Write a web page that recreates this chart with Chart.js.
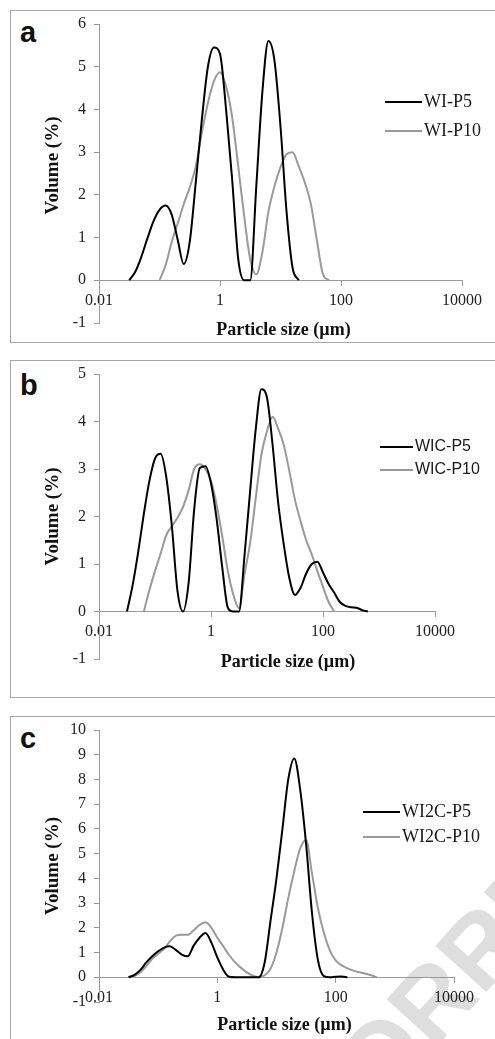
<!DOCTYPE html>
<html>
<head>
<meta charset="utf-8">
<title>Particle size distribution</title>
<script src="https://cdn.jsdelivr.net/npm/chart.js@4.4.1/dist/chart.umd.min.js"></script>
<style>
  html, body { margin: 0; padding: 0; background: #fff; width: 495px; height: 1039px; overflow: hidden; }
  .frame { position: absolute; left: 10px; width: 520px; border: 1px solid #a6a6a6; box-sizing: border-box; }
  .tag { position: absolute; left: 20px; font: bold 29px "Liberation Sans", Arial, sans-serif; line-height: 1; color: #111; }
  .watermark { position: absolute; left: 172px; top: 1211px; transform-origin: 0 0; transform: rotate(-47.7deg);
    font: bold 100px "Liberation Sans", Arial, sans-serif; line-height: 1; color: #dedede; white-space: nowrap; }
  canvas { position: absolute; left: 0; }
</style>
</head>
<body>
<div class="frame" style="top:10px;height:333px"></div>
<div class="frame" style="top:360px;height:338px"></div>
<div class="frame" style="top:716px;height:400px"></div>
<div class="watermark">UNCORRECTED PROOF</div>
<div class="tag" style="top:18px">a</div>
<div class="tag" style="top:371px">b</div>
<div class="tag" style="top:724px">c</div>
<canvas id="chartA" width="495" height="384" style="top:0px"></canvas>
<canvas id="chartB" width="495" height="371" style="top:350px"></canvas>
<canvas id="chartC" width="495" height="355" style="top:706px"></canvas>
<script>
// Particle size distributions (volume %) for WI, WIC and WI2C powders
// Readings taken along a 0.1-decade size grid, null where the curve is not drawn

// --- Size classes (µm) ---
const SIZES = [0.0316, 0.0398, 0.0501, 0.0631, 0.0794, 0.1, 0.126, 0.158, 0.2, 0.251,
  0.316, 0.398, 0.501, 0.631, 0.794, 1, 1.26, 1.58, 2, 2.51,
  3.16, 3.98, 5.01, 6.31, 7.94, 10, 12.6, 15.8, 20, 25.1,
  31.6, 39.8, 50.1, 63.1, 79.4, 100, 126, 158, 200, 251,
  316, 398, 501, 631];

const X_TICKS = [0.01, 1, 100, 10000];

// --- Panel a ---
const WI_P5 = [0, 0.2, 0.55, 0.98, 1.38, 1.65, 1.75, 1.55, 0.95, 0.38,
  0.9, 2.3, 3.76, 5.0, 5.45, 5.3, 4.0, 2.4, 0.5, 0,
  0, 2.2, 4.4, 5.6, 5.15, 3.6, 1.6, 0.3, 0, null,
  null, null, null, null, null, null, null, null, null, null,
  null, null, null, null];
const WI_P10 = [null, null, null, null, null, 0, 0.35, 0.88, 1.33, 1.78,
  2.17, 2.67, 3.45, 4.15, 4.66, 4.87, 4.54, 3.84, 2.67, 1.5,
  0.49, 0.14, 0.65, 1.6, 2.2, 2.65, 2.95, 3.0, 2.67, 2.3,
  1.8, 0.95, 0.15, 0, null, null, null, null, null, null,
  null, null, null, null];

// --- Panel b ---
const WIC_P5 = [0, 0.55, 1.25, 2.05, 2.75, 3.22, 3.32, 2.85, 1.8, 0.45,
  0, 0.6, 2.15, 3.02, 3.06, 2.7, 1.95, 0.95, 0.08, 0,
  0, 1.2, 2.55, 3.85, 4.68, 4.5, 3.5, 2.3, 1.4, 0.7,
  0.35, 0.5, 0.8, 1.0, 1.05, 0.82, 0.58, 0.4, 0.2, 0.12,
  0.09, 0.08, 0.03, 0];
const WIC_P10 = [null, null, null, 0, 0.45, 0.85, 1.22, 1.6, 1.8, 1.97,
  2.2, 2.55, 3.0, 3.1, 3.0, 2.75, 2.25, 1.6, 0.85, 0.35,
  0.07, 0.8, 1.45, 2.4, 3.3, 3.8, 4.1, 3.85, 3.5, 2.95,
  2.35, 1.9, 1.5, 1.2, 0.85, 0.52, 0.2, 0, null, null,
  null, null, null, null];

// --- Panel c ---
const WI2C_P5 = [0, 0.1, 0.3, 0.6, 0.85, 1.05, 1.2, 1.25, 1.1, 0.92,
  0.85, 1.28, 1.6, 1.79, 1.4, 0.8, 0.3, 0.02, 0, 0,
  0, 0, 0, 0.6, 2.3, 4.0, 6.0, 8.0, 8.85, 7.6,
  5.4, 2.6, 0.7, 0.05, 0, 0.02, 0.03, 0, null, null,
  null, null, null, null];
const WI2C_P10 = [0, 0.05, 0.2, 0.45, 0.75, 0.95, 1.15, 1.45, 1.68, 1.72,
  1.72, 1.9, 2.12, 2.23, 2.0, 1.6, 1.25, 0.9, 0.6, 0.38,
  0.2, 0.06, 0, 0.08, 0.35, 1.0, 2.0, 3.2, 4.3, 5.2,
  5.55, 4.2, 2.8, 1.8, 1.1, 0.68, 0.48, 0.36, 0.27, 0.2,
  0.15, 0.08, 0, null];

const AXIS_GREY = '#9a9a9a';
const SERIF = '"Liberation Serif", "Times New Roman", serif';

// --- Utility: pair sizes with values, skip empty classes ---
function toPoints(values) {
  const pts = [];
  values.forEach((v, i) => {
    if (v !== null) pts.push({ x: SIZES[i], y: v });
  });
  return pts;
}

// --- Legend drawn inside the plot, Excel style ---
const lineLegend = {
  id: 'lineLegend',
  afterDraw(chart, args, opts) {
    const ctx = chart.ctx;
    ctx.save();
    ctx.font = opts.font;
    ctx.textBaseline = 'middle';
    ctx.textAlign = 'left';
    chart.data.datasets.forEach((ds, i) => {
      const y = opts.y + i * opts.gap;
      ctx.strokeStyle = ds.borderColor;
      ctx.lineWidth = 2;
      ctx.beginPath();
      ctx.moveTo(opts.x1, y);
      ctx.lineTo(opts.x2, y);
      ctx.stroke();
      ctx.fillStyle = '#1a1a1a';
      ctx.fillText(ds.label, opts.x2 + 2, y);
    });
    ctx.restore();
  }
};

// --- Nudge the axis titles a little (Excel does not centre them on the plot) ---
function titleNudge(nudge) {
  return {
    id: 'titleNudge',
    afterLayout(chart) {
      Object.keys(nudge).forEach(axisId => {
        const scale = chart.scales[axisId];
        if (!scale || scale._nudged) return;
        const draw = scale.drawTitle;
        scale.drawTitle = function() {
          this.ctx.save();
          this.ctx.translate(nudge[axisId][0], nudge[axisId][1]);
          draw.call(this);
          this.ctx.restore();
        };
        scale._nudged = true;
      });
    }
  };
}

// --- Build one panel ---
function makePanel(id, p) {
  const ctx = document.getElementById(id).getContext('2d');
  return new Chart(ctx, {
    type: 'line',
    data: {
      datasets: [
        { label: p.labels[0], data: toPoints(p.black), borderColor: '#000', borderWidth: 2 },
        { label: p.labels[1], data: toPoints(p.grey), borderColor: '#9a9a9a', borderWidth: 2 }
      ]
    },
    options: {
      responsive: false,
      animation: false,
      elements: {
        point: { radius: 0 },
        line: { cubicInterpolationMode: 'monotone', fill: false }
      },
      // the x axis sits on y = 0, so its room below the plot is kept by hand
      layout: { padding: { left: 42, top: 24, right: p.padRight, bottom: p.xAxisHeight } },
      plugins: {
        legend: { display: false },
        tooltip: { enabled: false },
        lineLegend: p.legend
      },
      scales: {
        x: {
          type: 'logarithmic',
          position: { y: 0 },
          min: 0.01,
          max: 10000,
          afterBuildTicks: s => { s.ticks = X_TICKS.map(v => ({ value: v })); },
          afterFit: s => { s.height = p.xAxisHeight; },
          ticks: {
            callback: v => String(v),
            font: { family: SERIF, size: 16 },
            color: '#222',
            padding: 6,
            maxRotation: 0,
            autoSkip: false
          },
          grid: { drawOnChartArea: false, tickLength: 5, color: AXIS_GREY },
          border: { color: AXIS_GREY, width: 1 },
          title: {
            display: true,
            text: 'Particle size (µm)',
            font: { family: SERIF, size: 18, weight: 'bold' },
            color: '#111',
            padding: 0
          }
        },
        y: {
          min: -1,
          max: p.yMax,
          afterFit: s => { s.width = 57; },
          ticks: {
            stepSize: 1,
            font: { family: SERIF, size: 16 },
            color: '#222',
            padding: 8
          },
          grid: { drawOnChartArea: false, tickLength: 5, color: AXIS_GREY },
          border: { color: AXIS_GREY, width: 1 },
          title: {
            display: true,
            text: 'Volume (%)',
            font: { family: SERIF, size: 19, weight: 'bold' },
            color: '#111',
            padding: 0
          }
        }
      }
    },
    plugins: [lineLegend, titleNudge(p.nudge)]
  });
}

document.addEventListener('DOMContentLoaded', function() {
  makePanel('chartA', {
    labels: ['WI-P5', 'WI-P10'], black: WI_P5, grey: WI_P10,
    yMax: 6, padRight: 33, xAxisHeight: 61,
    nudge: { x: [3, 0], y: [0, -8] },
    legend: { x1: 385, x2: 422, y: 102, gap: 29, font: '18px ' + SERIF }
  });
  makePanel('chartB', {
    labels: ['WIC-P5', 'WIC-P10'], black: WIC_P5, grey: WIC_P10,
    yMax: 5, padRight: 60, xAxisHeight: 62,
    nudge: { x: [21, 0], y: [0, 0] },
    legend: { x1: 380, x2: 413, y: 97, gap: 23, font: '16px "Liberation Sans", Arial, sans-serif' }
  });
  makePanel('chartC', {
    labels: ['WI2C-P5', 'WI2C-P10'], black: WI2C_P5, grey: WI2C_P10,
    yMax: 10, padRight: 41, xAxisHeight: 59,
    nudge: { x: [8, 0], y: [0, 0] },
    legend: { x1: 363, x2: 400, y: 106, gap: 25, font: '18px ' + SERIF }
  });
});
</script>
</body>
</html>
